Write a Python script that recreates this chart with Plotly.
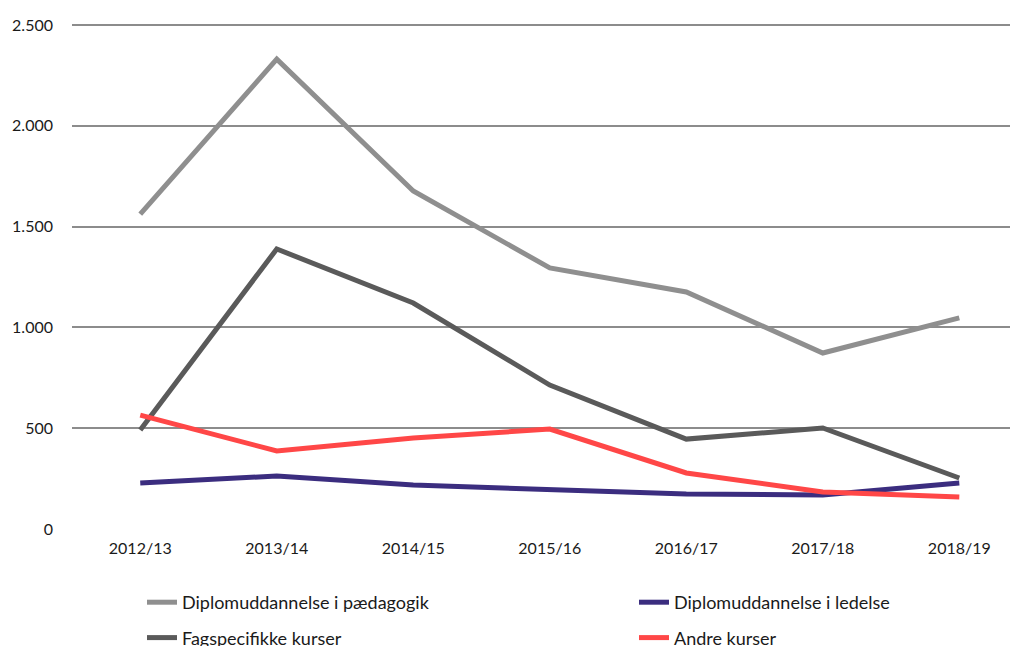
import plotly.graph_objects as go

years = ["2012/13", "2013/14", "2014/15", "2015/16", "2016/17", "2017/18", "2018/19"]
paedagogik = [1562, 2331, 1677, 1295, 1176, 873, 1047]
ledelse = [228, 263, 218, 198, 174, 169, 228]
fagspecifikke = [491, 1389, 1121, 714, 446, 501, 253]
andre = [565, 387, 451, 496, 278, 184, 159]

series = [
    ("Diplomuddannelse i pædagogik", paedagogik, "#8f8f8f", "legend"),
    ("Diplomuddannelse i ledelse", ledelse, "#3b2d7f", "legend2"),
    ("Fagspecifikke kurser", fagspecifikke, "#5a5a5a", "legend"),
    ("Andre kurser", andre, "#ff4747", "legend2"),
]

fig = go.Figure()
for name, vals, col, lg in series:
    fig.add_trace(go.Scatter(x=years, y=vals, name=name, mode="lines",
                             line=dict(color=col, width=5), legend=lg,
                             legendgroup=name))

# page body has an 8px margin, so the figure is sized to the visible area
W, H = 1010, 638
font = "Lato, sans-serif"
leg_common = dict(orientation="v", yanchor="top", xanchor="left",
                  xref="container", yref="container", tracegroupgap=9,
                  font=dict(size=18, color="#1a1a1a"), bgcolor="rgba(0,0,0,0)")
fig.update_layout(
    width=W, height=H,
    margin=dict(l=64, r=0, t=15, b=117, autoexpand=False),
    paper_bgcolor="white", plot_bgcolor="white",
    separators=",.",
    font=dict(family=font, size=16, color="#1a1a1a"),
    xaxis=dict(range=[-0.5, 6.43], showgrid=False, showline=False, ticks="",
               tickfont=dict(size=16), ticklabelstandoff=8),
    yaxis=dict(range=[0, 2510], tickvals=[0, 500, 1000, 1500, 2000, 2500],
               tickformat=",", showgrid=True, gridcolor="#8c8c8c", gridwidth=2,
               zeroline=False, showline=False, ticks="", ticklabelstandoff=18,
               tickfont=dict(size=16)),
    legend=dict(x=134 / W, y=1 - 576 / H, **leg_common),
    legend2=dict(x=626 / W, y=1 - 576 / H, **leg_common),
    showlegend=True,
)

fig.write_html("out.html")
